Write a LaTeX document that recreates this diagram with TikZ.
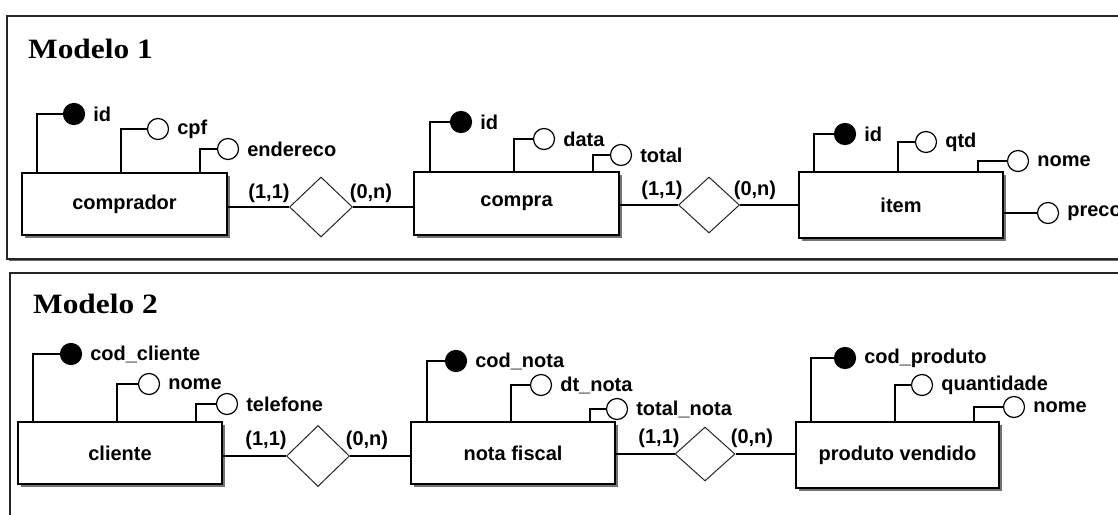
\documentclass[tikz,border=0pt]{standalone}
\usepackage{fontspec}
\setmainfont{Liberation Sans}
\newfontfamily\titlefont{Liberation Serif}
\usetikzlibrary{shapes.geometric,shadows}
\begin{document}
\begin{tikzpicture}[x=1pt,y=-1pt,
  txt/.style={font=\fontsize{20}{20}\selectfont\bfseries, inner sep=0},
  ent/.style={draw, line width=1.4pt, fill=white, inner sep=0, txt,
    drop shadow={shadow xshift=2.5pt, shadow yshift=-2.5pt, fill=black!55, opacity=1}},
  rel/.style={diamond, draw=black!85, line width=1pt, fill=white, inner sep=0,
    minimum width=63pt, minimum height=60pt},
  key/.style={circle, draw, line width=1.2pt, fill=black, inner sep=0, minimum size=21pt},
  att/.style={circle, draw, line width=1.2pt, fill=white, inner sep=0, minimum size=21pt},
  lab/.style={label={[txt, label distance=8pt]right:#1}},
  conn/.style={line width=1.2pt},
  card/.style={txt},
  title/.style={font=\titlefont\fontsize{28}{28}\selectfont\bfseries, inner sep=0, anchor=base west},
  frame/.style={draw=black!85, line width=1.5pt, fill=white,
    drop shadow={shadow xshift=2pt, shadow yshift=-2pt, fill=black!60, opacity=1}}
]
\useasboundingbox (0,0) rectangle (1118,514);
\clip (0,0) rectangle (1118,514);
\fill[white] (0,0) rectangle (1118,514);

% ---------- Panel 1 ----------
\path[frame] (7,16) rectangle (1140,259);
\node[title] (t1) at (28,58) {\scalebox{1.12}[1]{Modelo 1}};

\node[ent, minimum width=205pt, minimum height=62pt] (comprador) at (124.5,204) {comprador};
\node[ent, minimum width=205pt, minimum height=63pt] (compra) at (516.5,203.5) {compra};
\node[ent, minimum width=204pt, minimum height=66pt] (item) at (901,205) {item};

\node[rel, minimum width=63pt, minimum height=60pt] (r1) at (321,207) {};
\node[rel, minimum width=61pt, minimum height=56pt] (r2) at (709,205) {};

\draw[conn] (r1.west -| comprador.east) -- (r1.west);
\draw[conn] (r1.east) -- (r1.east -| compra.west);
\draw[conn] (r2.west -| compra.east) -- (r2.west);
\draw[conn] (r2.east) -- (r2.east -| item.west);

\node[card] (c1a) at (269,193) {(1,1)};
\node[card] (c1b) at (371,193) {(0,n)};
\node[card] (c2a) at (662,190) {(1,1)};
\node[card] (c2b) at (755,190) {(0,n)};

% comprador attributes
\node[key, lab=id] (a11) at (74,114) {};
\node[att, lab=cpf] (a12) at (158,129) {};
\node[att, lab=endereco] (a13) at (228,149) {};
\coordinate (x11) at (37,0);
\coordinate (x12) at (121,0);
\coordinate (x13) at (200,0);
\draw[conn] (a11.west) -| (x11 |- comprador.north);
\draw[conn] (a12.west) -| (x12 |- comprador.north);
\draw[conn] (a13.west) -| (x13 |- comprador.north);

% compra attributes
\node[key, lab=id] (a21) at (461,122) {};
\node[att, lab=data] (a22) at (544,139) {};
\node[att, lab=total] (a23) at (621,155) {};
\coordinate (x21) at (430,0);
\coordinate (x22) at (514,0);
\coordinate (x23) at (593,0);
\draw[conn] (a21.west) -| (x21 |- compra.north);
\draw[conn] (a22.west) -| (x22 |- compra.north);
\draw[conn] (a23.west) -| (x23 |- compra.north);

% item attributes
\node[key, lab=id] (a31) at (845,134) {};
\node[att, lab=qtd] (a32) at (926,142) {};
\node[att, lab=nome] (a33) at (1018,161) {};
\node[att, lab=preco] (a34) at (1048,213) {};
\coordinate (x31) at (814,0);
\coordinate (x32) at (898,0);
\coordinate (x33) at (978,0);
\draw[conn] (a31.west) -| (x31 |- item.north);
\draw[conn] (a32.west) -| (x32 |- item.north);
\draw[conn] (a33.west) -| (x33 |- item.north);
\draw[conn] (a34.west -| item.east) -- (a34.west);

% ---------- Panel 2 ----------
\path[frame] (10,273) rectangle (1140,540);
\node[title] (t2) at (33,313) {\scalebox{1.12}[1]{Modelo 2}};

\node[ent, minimum width=204pt, minimum height=62pt] (cliente) at (120,453) {cliente};
\node[ent, minimum width=204pt, minimum height=62pt] (nota) at (513,453) {nota fiscal};
\node[ent, minimum width=203pt, minimum height=66pt] (produto) at (897.5,455) {produto vendido};

\node[rel, minimum width=63pt, minimum height=61pt] (r3) at (318,456) {};
\node[rel, minimum width=60pt, minimum height=54pt] (r4) at (705,454) {};

\draw[conn] (r3.west -| cliente.east) -- (r3.west);
\draw[conn] (r3.east) -- (r3.east -| nota.west);
\draw[conn] (r4.west -| nota.east) -- (r4.west);
\draw[conn] (r4.east) -- (r4.east -| produto.west);

\node[card] (c3a) at (266,440) {(1,1)};
\node[card] (c3b) at (367,440) {(0,n)};
\node[card] (c4a) at (659,438) {(1,1)};
\node[card] (c4b) at (752,438) {(0,n)};

% cliente attributes
\node[key, lab=cod\_cliente] (b11) at (71,354) {};
\node[att, lab=nome] (b12) at (149,384) {};
\node[att, lab=telefone] (b13) at (227,404) {};
\coordinate (y11) at (33,0);
\coordinate (y12) at (117,0);
\coordinate (y13) at (196,0);
\draw[conn] (b11.west) -| (y11 |- cliente.north);
\draw[conn] (b12.west) -| (y12 |- cliente.north);
\draw[conn] (b13.west) -| (y13 |- cliente.north);

% nota fiscal attributes
\node[key, lab=cod\_nota] (b21) at (456,361) {};
\node[att, lab=dt\_nota] (b22) at (541,385) {};
\node[att, lab=total\_nota] (b23) at (617,409) {};
\coordinate (y21) at (427,0);
\coordinate (y22) at (511,0);
\coordinate (y23) at (590,0);
\draw[conn] (b21.west) -| (y21 |- nota.north);
\draw[conn] (b22.west) -| (y22 |- nota.north);
\draw[conn] (b23.west) -| (y23 |- nota.north);

% produto vendido attributes
\node[key, lab=cod\_produto] (b31) at (845,358) {};
\node[att, lab=quantidade] (b32) at (922,385) {};
\node[att, lab=nome] (b33) at (1014,407) {};
\coordinate (y31) at (811,0);
\coordinate (y32) at (895,0);
\coordinate (y33) at (974,0);
\draw[conn] (b31.west) -| (y31 |- produto.north);
\draw[conn] (b32.west) -| (y32 |- produto.north);
\draw[conn] (b33.west) -| (y33 |- produto.north);
\end{tikzpicture}
\end{document}
